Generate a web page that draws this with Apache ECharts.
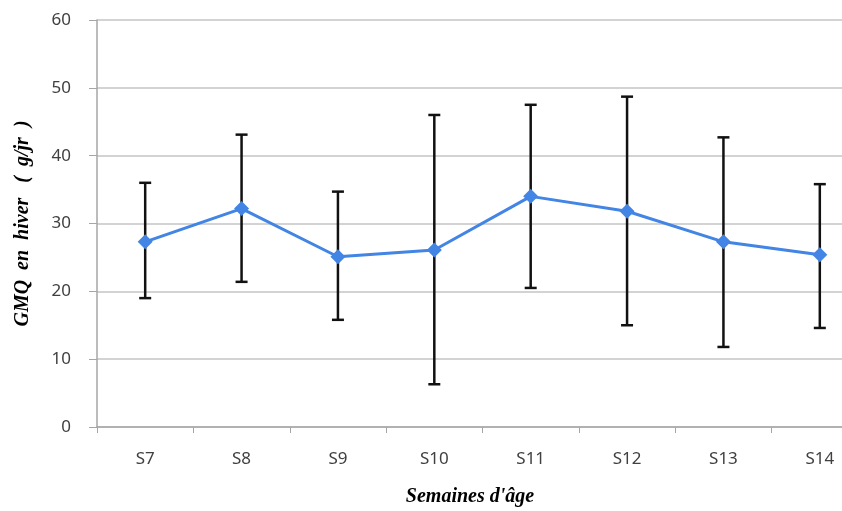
<!DOCTYPE html>
<html>
<head>
<meta charset="utf-8">
<script src="https://cdn.jsdelivr.net/npm/echarts@6/dist/echarts.min.js"></script>
<style>
  html, body { margin: 0; padding: 0; background: #fff; }
  #main { width: 842px; height: 511px; }
</style>
</head>
<body>
<div id="main"></div>
<script>
// semaines d'age
var weeks = ['S7', 'S8', 'S9', 'S10', 'S11', 'S12', 'S13', 'S14'];
// GMQ moyen (g/jr)
var gmq = [27.3, 32.2, 25.1, 26.1, 34.0, 31.8, 27.3, 25.4];
// bornes des barres d'erreur
var errLow = [19.0, 21.4, 15.8, 6.3, 20.5, 15.0, 11.8, 14.6];
var errHigh = [36.0, 43.1, 34.7, 46.0, 47.5, 48.7, 42.7, 35.8];

var errData = weeks.map(function (w, i) {
    return [i, errLow[i], errHigh[i]];
});

var chart = echarts.init(document.getElementById('main'));

var option = {
    animation: false,
    grid: { left: 97, top: 20, width: 771, height: 407, outerBoundsMode: 'none', containLabel: false },
    xAxis: {
        type: 'category',
        data: weeks,
        boundaryGap: true,
        axisLine: { lineStyle: { color: '#a6a6a6', width: 1.5 } },
        axisTick: { show: true, alignWithLabel: false, length: 6, lineStyle: { color: '#a6a6a6' } },
        axisLabel: { color: '#404040', fontFamily: 'Noto Sans', fontSize: 17, margin: 24 },
        name: "Semaines d'âge",
        nameLocation: 'middle',
        nameGap: 60,
        nameTextStyle: {
            fontFamily: 'Liberation Serif', fontStyle: 'italic', fontWeight: 'bold',
            fontSize: 20, color: '#000', padding: [0, 25, 0, 0]
        }
    },
    yAxis: {
        type: 'value',
        min: 0, max: 60, interval: 10,
        axisLine: { show: true, lineStyle: { color: '#a6a6a6', width: 1.5 } },
        axisTick: { show: true, length: 8, lineStyle: { color: '#a6a6a6' } },
        splitLine: { lineStyle: { color: '#c4c4c4', width: 1.5 } },
        axisLabel: { color: '#404040', fontFamily: 'Noto Sans', fontSize: 17, margin: 26 },
        name: 'GMQ  en  hiver   (  g/jr  )',
        nameLocation: 'middle',
        nameGap: 64,
        nameTextStyle: {
            fontFamily: 'Liberation Serif', fontStyle: 'italic', fontWeight: 'bold',
            fontSize: 20, color: '#000'
        }
    },
    series: [
        {
            type: 'custom',
            z: 3,
            renderItem: function (params, api) {
                var x = api.value(0);
                var lo = api.coord([x, api.value(1)]);
                var hi = api.coord([x, api.value(2)]);
                var cap = 6;
                var style = { stroke: '#111', lineWidth: 2.5 };
                return {
                    type: 'group',
                    children: [
                        { type: 'line', shape: { x1: hi[0], y1: hi[1], x2: lo[0], y2: lo[1] }, style: style },
                        { type: 'line', shape: { x1: hi[0] - cap, y1: hi[1], x2: hi[0] + cap, y2: hi[1] }, style: style },
                        { type: 'line', shape: { x1: lo[0] - cap, y1: lo[1], x2: lo[0] + cap, y2: lo[1] }, style: style }
                    ]
                };
            },
            encode: { x: 0, y: [1, 2] },
            data: errData
        },
        {
            type: 'line',
            z: 4,
            data: gmq,
            symbol: 'diamond',
            symbolSize: 15,
            lineStyle: { color: '#4285e4', width: 3 },
            itemStyle: { color: '#4285e4' }
        }
    ]
};

chart.setOption(option);
</script>
</body>
</html>
